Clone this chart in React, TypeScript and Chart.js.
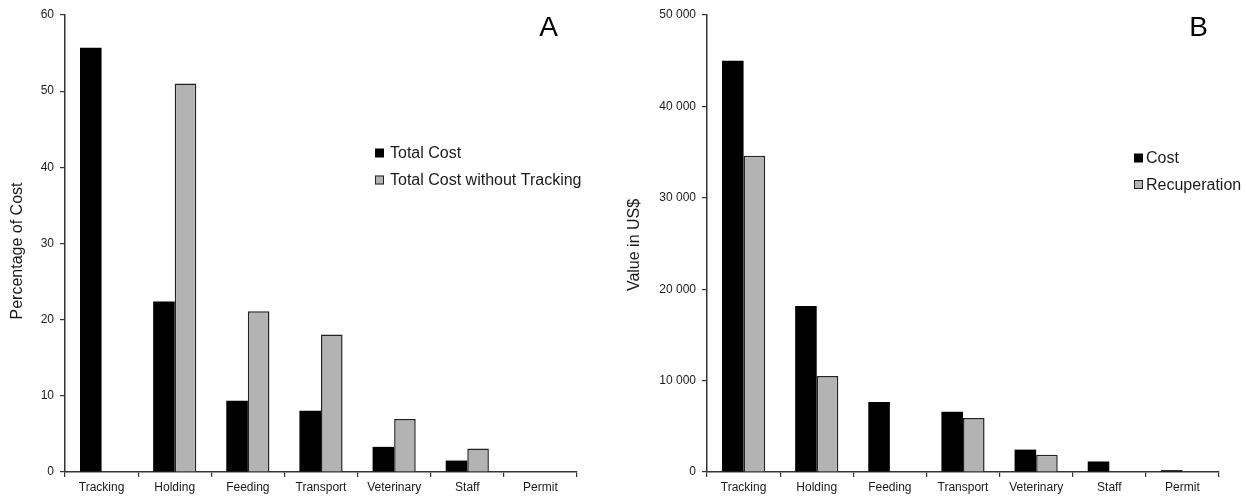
import React, { useEffect, useRef } from "react";
import { Chart, registerables } from "chart.js";

Chart.register(...registerables);

const categories = ["Tracking", "Holding", "Feeding", "Transport", "Veterinary", "Staff", "Permit"];

const panelATotal = [55.7, 22.4, 9.35, 8.05, 3.3, 1.5, 0];
const panelAWithoutTracking = [null, 51.0, 21.1, 18.05, 6.95, 3.1, 0];
const panelATicks = [0, 10, 20, 30, 40, 50, 60];

const panelBCost = [45000, 18150, 7650, 6600, 2450, 1150, 200];
const panelBRecuperation = [34600, 10500, null, 5900, 1900, null, null];
const panelBTicks = [0, 10000, 20000, 30000, 40000, 50000];

const FONT = "'Liberation Sans', Arial, sans-serif";
const BLACK = "#000000";
const GRAY = "#b3b3b3";
const TEXT = "#1a1a1a";

type PanelCfg = {
  labels: string[];
  series: { label: string; data: (number | null)[] }[];
  yMax: number;
  yStep: number;
  yTitle: string;
  yTitleX: number;
  yTitleY: number;
  yFormat: (v: number) => string;
  yWidth: number;
  rightPad: number;
  letter: string;
  letterX: number;
  legend: { boxX: number; textX: number; rows: number[] };
};

function makePlugin(cfg: PanelCfg) {
  return {
    id: "panelDecor" + cfg.letter,
    afterDraw(chart: any) {
      const ctx = chart.ctx;
      ctx.save();
      // panel letter
      ctx.fillStyle = BLACK;
      ctx.font = `28px ${FONT}`;
      ctx.textAlign = "center";
      ctx.textBaseline = "middle";
      ctx.fillText(cfg.letter, cfg.letterX, 28);
      // y axis title
      ctx.save();
      ctx.translate(cfg.yTitleX, cfg.yTitleY);
      ctx.rotate(-Math.PI / 2);
      ctx.fillStyle = TEXT;
      ctx.font = `16px ${FONT}`;
      ctx.textAlign = "center";
      ctx.textBaseline = "middle";
      ctx.fillText(cfg.yTitle, 0, 0);
      ctx.restore();
      // legend
      ctx.font = `16px ${FONT}`;
      ctx.textAlign = "left";
      ctx.textBaseline = "middle";
      chart.data.datasets.forEach((ds: any, i: number) => {
        const y = cfg.legend.rows[i];
        ctx.fillStyle = ds.backgroundColor;
        ctx.fillRect(cfg.legend.boxX, y - 4.5, 9, 9);
        if (ds.borderWidth) {
          ctx.strokeStyle = "#222";
          ctx.lineWidth = 1;
          ctx.strokeRect(cfg.legend.boxX + 0.5, y - 4, 8, 8);
        }
        ctx.fillStyle = TEXT;
        ctx.fillText(ds.label, cfg.legend.textX, y + 1);
      });
      ctx.restore();
    },
  };
}

function Panel({ cfg, left, width }: { cfg: PanelCfg; left: number; width: number }) {
  const ref = useRef<HTMLCanvasElement | null>(null);
  useEffect(() => {
    if (!ref.current) return;
    const chart = new Chart(ref.current, {
      type: "bar",
      data: {
        labels: cfg.labels,
        datasets: cfg.series.map((s, i) => ({
          label: s.label,
          data: s.data as any,
          backgroundColor: i === 0 ? BLACK : GRAY,
          borderColor: i === 0 ? BLACK : "#222",
          borderWidth: i === 0 ? 0 : 1.5,
          borderSkipped: "bottom" as const,
          categoryPercentage: 0.59,
          barPercentage: 1,
        })),
      },
      options: {
        animation: false,
        responsive: true,
        maintainAspectRatio: false,
        layout: { padding: { left: 0, right: cfg.rightPad, top: 15, bottom: 0 } },
        plugins: { legend: { display: false }, tooltip: { enabled: false } },
        scales: {
          x: {
            grid: { display: true, drawOnChartArea: false, drawTicks: true, tickLength: 5, color: "#333", offset: true, lineWidth: 1.2 },
            border: { display: true, color: "#333", width: 1.5 },
            ticks: { color: TEXT, font: { family: FONT, size: 12 }, padding: 3, maxRotation: 0, autoSkip: false },
            afterFit: (scale: any) => { scale.height = 25; },
          },
          y: {
            min: 0,
            max: cfg.yMax,
            grid: { display: true, drawOnChartArea: false, drawTicks: true, tickLength: 5, color: "#333", lineWidth: 1.2 },
            border: { display: true, color: "#333", width: 1.5 },
            ticks: {
              stepSize: cfg.yStep,
              color: TEXT,
              font: { family: FONT, size: 12 },
              padding: 6,
              callback: (v: any) => cfg.yFormat(Number(v)),
            },
            afterFit: (scale: any) => { scale.width = cfg.yWidth; },
          },
        },
      },
      plugins: [makePlugin(cfg)],
    });
    return () => chart.destroy();
  }, []);
  return (
    <div style={{ position: "absolute", left, top: 0, width, height: 497 }}>
      <canvas ref={ref} />
    </div>
  );
}

const fmtThousands = (v: number) =>
  v === 0 ? "0" : `${Math.floor(v / 1000)} ${String(v % 1000).padStart(3, "0")}`;

export default function App() {
  const cfgA: PanelCfg = {
    labels: categories,
    series: [
      { label: "Total Cost", data: panelATotal },
      { label: "Total Cost without Tracking", data: panelAWithoutTracking },
    ],
    yMax: panelATicks[panelATicks.length - 1],
    yStep: panelATicks[1] - panelATicks[0],
    yTitle: "Percentage of Cost",
    yTitleX: 18,
    yTitleY: 251,
    yFormat: (v) => String(v),
    yWidth: 65,
    rightPad: 43,
    letter: "A",
    letterX: 548.5,
    legend: { boxX: 375, textX: 390, rows: [153, 180] },
  };
  const cfgB: PanelCfg = {
    labels: categories,
    series: [
      { label: "Cost", data: panelBCost },
      { label: "Recuperation", data: panelBRecuperation },
    ],
    yMax: panelBTicks[panelBTicks.length - 1],
    yStep: panelBTicks[1] - panelBTicks[0],
    yTitle: "Value in US$",
    yTitleX: 15,
    yTitleY: 245,
    yFormat: fmtThousands,
    yWidth: 87,
    rightPad: 27,
    letter: "B",
    letterX: 578.5,
    legend: { boxX: 514, textX: 526, rows: [158, 184.5] },
  };
  return (
    <div style={{ position: "fixed", left: 0, top: 0, width: 1246, height: 497, background: "#fff" }}>
      <Panel cfg={cfgA} left={0} width={620} />
      <Panel cfg={cfgB} left={620} width={626} />
    </div>
  );
}
